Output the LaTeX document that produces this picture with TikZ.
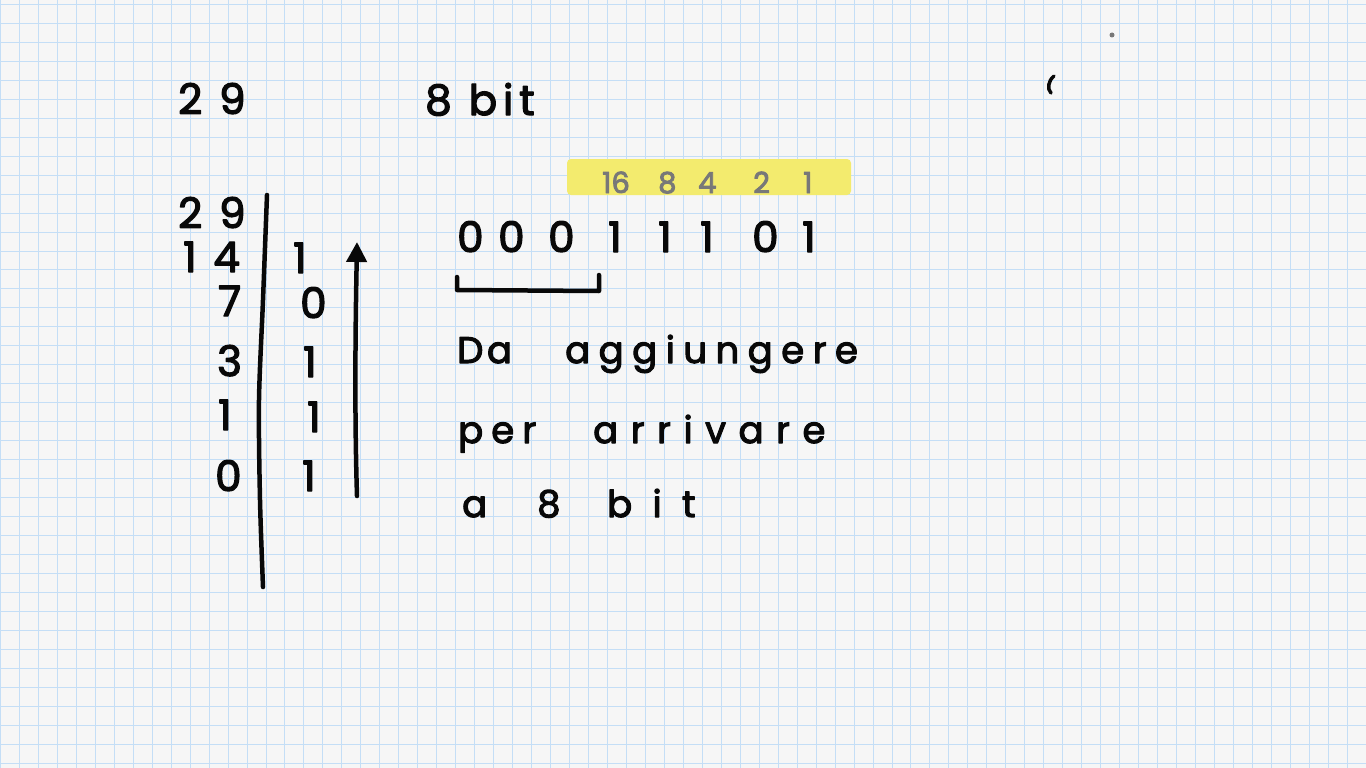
\documentclass[tikz,border=0pt]{standalone}
\usepackage{fontspec}
\usepackage{xcolor}
\usepackage{tikz}
\usetikzlibrary{arrows.meta}
\newfontfamily\handfont{Poppins}[FakeBold=3]
\definecolor{nbPaper}{HTML}{F6F6F6}
\definecolor{nbGrid}{HTML}{C4DEF6}
\definecolor{nbInk}{HTML}{080808}
\definecolor{nbPencil}{HTML}{787878}
\definecolor{nbMarker}{HTML}{F3EB6E}
\tikzset{
  nb sheet/.style={x=1pt, y=-1pt, line cap=round, line join=round},
  nb grid/.style={draw=nbGrid, line width=0.8pt},
  nb hand/.style={font=\handfont\fontsize{42}{46}\selectfont, text=nbInk,
    inner sep=0pt, anchor=base west},
  nb wide/.style={nb hand, font=\handfont\fontsize{42}{46}\selectfont\addfontfeature{LetterSpace=#1}},
  nb word/.style={nb hand, font=\handfont\fontsize{37}{42}\selectfont\addfontfeature{LetterSpace=#1}},
  nb weight/.style={nb hand, text=nbPencil, font=\handfont\fontsize{29}{32}\selectfont},
  nb marker/.style={fill=nbMarker, draw=none, rounded corners=4pt, inner sep=0pt},
  nb ink/.style={draw=nbInk, line width=4.5pt},
  nb arrow/.style={nb ink, -{Triangle[length=20pt, width=20pt]}}
}
\begin{document}
\begin{tikzpicture}[nb sheet]
\useasboundingbox (0,0) rectangle (1366,768);
\fill[nbPaper] (0,0) rectangle (1366,768);
% squared paper
\foreach \i in {0,...,72}
  \draw[nb grid] ({0.33+18.97*\i},0) -- ++(0,768);
\foreach \j in {0,...,40}
  \draw[nb grid] (0,{4.3+18.97*\j}) -- ++(1366,0);

% heading
\node[nb wide=40] (number) at (178,114) {29};
\node[nb wide=14] (width) at (425,115) {8 bit};

% divisions by 2
\node[nb wide=40] (q0) at (178,228) {29};
\node[nb wide=40] (q1) at (183,272) {14};
\node[nb hand] (q2) at (218,316) {7};
\node[nb hand] (q3) at (217,376) {3};
\node[nb hand] (q4) at (218,430) {1};
\node[nb hand] (q5) at (215,491) {0};
\node[nb hand] (r1) at (293,273) {1};
\node[nb hand] (r2) at (300,318) {0};
\node[nb hand] (r3) at (303,377) {1};
\node[nb hand] (r4) at (307,432) {1};
\node[nb hand] (r5) at (302,491) {1};
\draw[nb ink] plot[smooth] coordinates {(267,195) (263,300) (259,400) (260,500) (263,587)};
\coordinate (readfoot) at (357,496);
\coordinate (readtip) at (357,242);
\draw[nb arrow] (readfoot) .. controls (354,400) and (356,300) .. (readtip);

% place values
\node[nb marker, minimum width=284pt, minimum height=36pt] (hilite) at (709,177) {};
\foreach \w/\x in {16/602,8/658,4/698,2/753,1/803}
  \node[nb weight] (w\w) at (\x,193) {\w};

% result on 8 bit
\foreach \b/\x [count=\i] in {0/457,0/498,0/548,1/608,1/658,1/700,0/752,1/802}
  \node[nb hand] (bit\i) at (\x,252) {\b};
\draw[nb ink] (457,277) -- (457,290) -- (599,291) -- (599,275);

\node[nb word=10] (da) at (457,363) {Da};
\node[nb word=23] (add) at (565,363) {aggiungere};
\node[nb word=22] (per) at (458,443) {per};
\node[nb word=34] (reach) at (593,443) {arrivare};
\node[nb word=4] (a) at (462,517) {a};
\node[nb word=4] (eight) at (537,517) {8};
\node[nb word=55] (bit) at (607,517) {bit};

% stray marks
\draw[nb ink, line width=3.5pt] (1054,76) .. controls (1048,81) and (1047,89) .. (1051,93);
\fill[nbPencil] (1112,35) circle (2.5);
\end{tikzpicture}
\end{document}
